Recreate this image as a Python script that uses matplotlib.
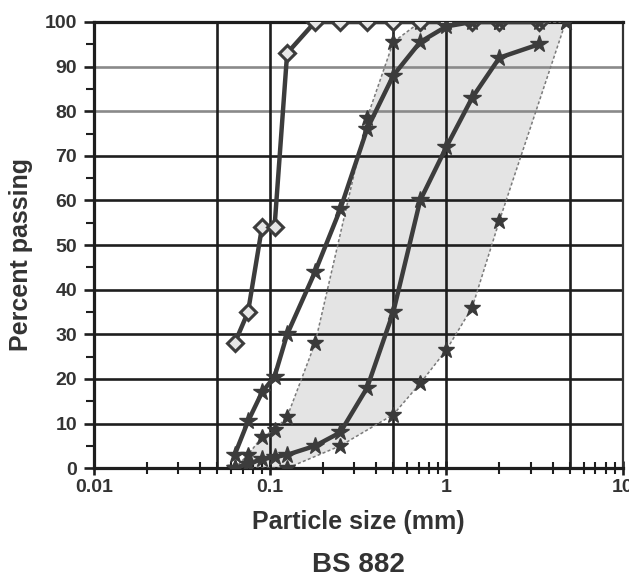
#!/usr/bin/env python3
"""Grading curves against a BS 882 envelope, redrawn from a scanned figure."""

import matplotlib
matplotlib.use('Agg')
import matplotlib.pyplot as plt

plt.rcParams['font.family'] = ['Liberation Sans', 'DejaVu Sans']

# Sieve sizes (mm) and percent passing
sand_a_size = [0.063, 0.075, 0.09, 0.106, 0.125, 0.18, 0.25, 0.355, 0.5, 0.71, 1.0, 1.4, 2.0, 3.35]
sand_a_pass = [28, 35, 54, 54, 93, 100, 100, 100, 100, 100, 100, 100, 100, 100]

sand_b_size = [0.063, 0.075, 0.09, 0.106, 0.125, 0.18, 0.25, 0.355, 0.5, 0.71, 1.0, 1.4, 2.0, 3.35]
sand_b_pass = [3, 10.5, 17, 20.5, 30, 44, 58, 76, 88, 95.5, 99, 100, 100, 100]

sand_c_size = [0.063, 0.075, 0.09, 0.106, 0.125, 0.18, 0.25, 0.355, 0.5, 0.71, 1.0, 1.4, 2.0, 3.35]
sand_c_pass = [0, 1, 2, 2.5, 3, 5, 8, 18, 35, 60, 72, 83, 92, 95]

upper_size = [0.063, 0.075, 0.09, 0.106, 0.125, 0.18, 0.355, 0.5, 0.71, 1.0, 2.0, 4.75]
upper_pass = [0, 3, 7, 8.5, 11.5, 28, 78.5, 95.5, 100, 100, 100, 100]

lower_size = [0.063, 0.125, 0.25, 0.5, 0.71, 1.0, 1.4, 2.0, 4.75]
lower_pass = [0, 0, 5, 12, 19, 26.5, 36, 55.5, 100]

y_ticks = [0, 10, 20, 30, 40, 50, 60, 70, 80, 90, 100]
x_ticks = [0.01, 0.1, 1, 10]
x_tick_labels = ['0.01', '0.1', '1', '10']


def main():
    fig = plt.figure(figsize=(6.29, 5.78), dpi=100)
    ax = fig.add_axes([0.149, 0.190, 0.841, 0.772])
    ax.set_xscale('log')
    ax.set_xlim(0.01, 10)
    ax.set_ylim(0, 100)

    # shaded grading envelope
    env_x = upper_size + lower_size[::-1]
    env_y = upper_pass + lower_pass[::-1]
    ax.fill(env_x, env_y, color='#e4e4e4', zorder=0, linewidth=0)

    # grid: heavy black lines, 80 and 90 come out grey in the scan
    for yv in y_ticks:
        col = '#8a8a8a' if yv in (80, 90) else '#1e1e1e'
        ax.axhline(yv, color=col, linewidth=1.9, zorder=1)
    for xv in [0.05, 0.1, 0.5, 1, 5]:
        ax.axvline(xv, color='#1e1e1e', linewidth=1.9, zorder=1)

    # envelope limits
    env_style = dict(color='#7a7a7a', linewidth=1.1, linestyle=(0, (2, 1.5)),
                     marker='*', markersize=12, markerfacecolor='#3a3a3a',
                     markeredgecolor='#3a3a3a', zorder=3)
    ax.plot(upper_size, upper_pass, **env_style)
    ax.plot(lower_size, lower_pass, **env_style)

    # measured curves
    ax.plot(sand_a_size, sand_a_pass, color='#3c3c3c', linewidth=3.2,
            marker='D', markersize=8, markerfacecolor='#e6e6e6',
            markeredgecolor='#3c3c3c', markeredgewidth=2.2, zorder=4)
    ax.plot(sand_b_size, sand_b_pass, color='#3c3c3c', linewidth=3.2,
            marker='*', markersize=13, markerfacecolor='#3c3c3c',
            markeredgecolor='#3c3c3c', zorder=4)
    ax.plot(sand_c_size, sand_c_pass, color='#3c3c3c', linewidth=3.2,
            marker='*', markersize=13, markerfacecolor='#3c3c3c',
            markeredgecolor='#3c3c3c', zorder=4)

    # ticks and labels
    ax.set_yticks(y_ticks)
    ax.set_yticks(range(5, 100, 10), minor=True)
    ax.set_xticks(x_ticks)
    ax.set_xticklabels(x_tick_labels)
    ax.tick_params(axis='both', which='major', labelsize=14, width=1.9,
                   length=7, color='#1e1e1e', pad=3)
    ax.tick_params(axis='y', which='major', pad=5)
    ax.tick_params(axis='y', which='minor', length=6, width=1.5, color='#1e1e1e')
    ax.tick_params(axis='x', which='minor', direction='inout', length=8,
                   width=1.5, color='#1e1e1e')
    ax.tick_params(axis='x', which='major', direction='inout', length=10)
    for lbl in ax.get_xticklabels() + ax.get_yticklabels():
        lbl.set_fontweight('bold')
        lbl.set_color('#333333')

    for side in ['left', 'bottom', 'top']:
        ax.spines[side].set_linewidth(2.3)
        ax.spines[side].set_color('#1e1e1e')
    ax.spines['right'].set_linewidth(1.6)
    ax.spines['right'].set_color('#333333')

    ax.set_ylabel('Percent passing', fontsize=18, fontweight='bold',
                  color='#333333')
    ax.yaxis.set_label_coords(-0.114, 0.478)
    ax.set_xlabel('Particle size (mm)', fontsize=18, fontweight='bold',
                  color='#333333', labelpad=10)
    fig.text(0.57, 0.0, 'BS 882', fontsize=20, fontweight='bold',
             color='#333333', ha='center', va='bottom')

    fig.savefig('out.png', dpi=100, facecolor='white')
    plt.close(fig)


if __name__ == "__main__":
    main()
